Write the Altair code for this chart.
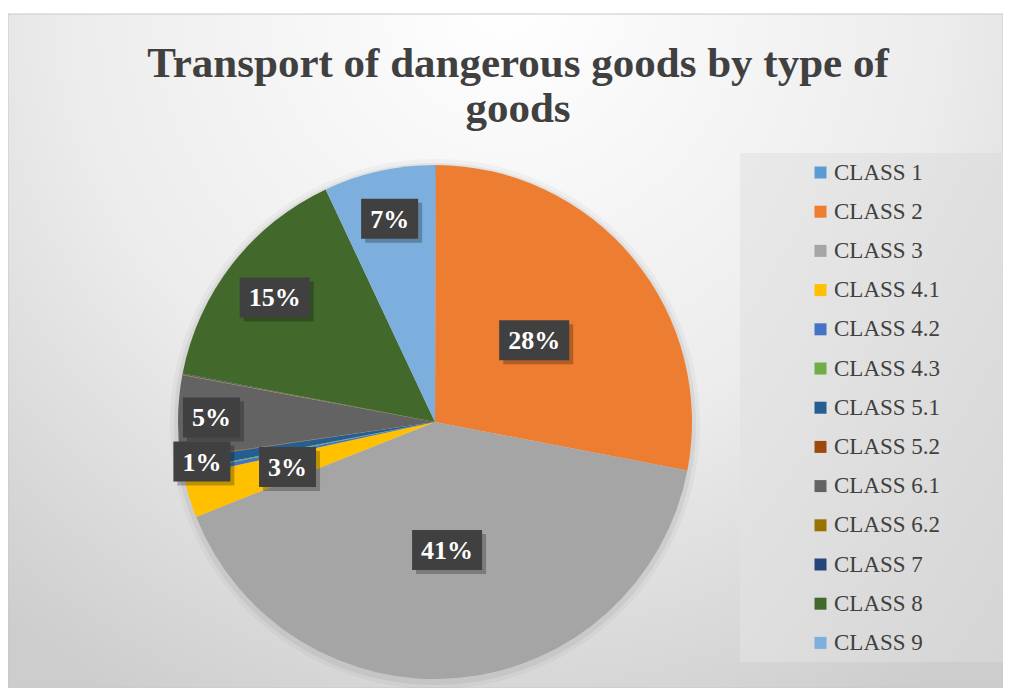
import altair as alt
import pandas as pd
import numpy as np

# ---------------- data ----------------
classes = ["CLASS 1", "CLASS 2", "CLASS 3", "CLASS 4.1", "CLASS 4.2", "CLASS 4.3",
           "CLASS 5.1", "CLASS 5.2", "CLASS 6.1", "CLASS 6.2", "CLASS 7", "CLASS 8", "CLASS 9"]
values = [0.05, 28.0, 41.0, 2.6, 0.3, 0.1, 0.7, 0.05, 5.2, 0.05, 0.05, 15.0, 7.0]
colors = ["#5B9BD5", "#ED7D31", "#A5A5A5", "#FFC000", "#4472C4", "#70AD47",
          "#255E91", "#9E480E", "#636363", "#997300", "#264478", "#43682B", "#7CAFDD"]
title_lines = ["Transport of dangerous goods by type of", "goods"]

# ---------------- layout ----------------
W, H = 995, 680
CX, CY, R = 427, 414, 257
label_radius = {"CLASS 2": 0.5, "CLASS 3": 0.5, "CLASS 4.1": 0.6, "CLASS 5.1": 0.92,
                "CLASS 6.1": 0.87, "CLASS 8": 0.79, "CLASS 9": 0.81}
FONT = "Liberation Serif"
TXT = "#404040"

df = pd.DataFrame({"cls": classes, "value": values, "idx": list(range(len(classes)))})
total = df["value"].sum()
df["pct"] = df["value"] / total
cum = df["pct"].cumsum()
df["mid"] = (cum - df["pct"] / 2) * 2 * np.pi
df["label"] = (df["pct"] * 100).round().astype(int).astype(str) + "%"
lab = df[(df["pct"] * 100).round() >= 1].copy()
lab["rf"] = lab["cls"].map(label_radius).fillna(0.6)
lab["lx"] = CX + np.sin(lab["mid"]) * R * lab["rf"]
lab["ly"] = CY - np.cos(lab["mid"]) * R * lab["rf"]
lab["bw"] = np.where(lab["label"].str.len() >= 3, 70, 57)
lab["x0"] = lab["lx"] - lab["bw"] / 2
lab["x1"] = lab["lx"] + lab["bw"] / 2
lab["y0"] = lab["ly"] - 20
lab["y1"] = lab["ly"] + 20
lab["sx0"] = lab["x0"] + 4
lab["sx1"] = lab["x1"] + 4
lab["sy0"] = lab["y0"] + 4
lab["sy1"] = lab["y1"] + 4

xs = alt.Scale(domain=[0, W], nice=False, zero=False)
ys = alt.Scale(domain=[0, H], nice=False, zero=False, reverse=True)
dummy = alt.Data(values=[{}])

bg_grad = {"gradient": "radial", "x1": 0.5, "y1": 0.15, "r1": 0,
           "x2": 0.5, "y2": 0.15, "r2": 0.8,
           "stops": [{"offset": 0, "color": "#ffffff"},
                     {"offset": 0.55, "color": "#ececec"},
                     {"offset": 1, "color": "#cdcdcd"}]}
background = alt.Chart(dummy).mark_rect(color=bg_grad, stroke="#c8c8c8", strokeWidth=1).encode(
    x=alt.value(0), x2=alt.value(W), y=alt.value(6), y2=alt.value(H))

leg_grad = {"gradient": "linear", "x1": 0, "y1": 0, "x2": 1, "y2": 1,
            "stops": [{"offset": 0, "color": "#e8e8e8"}, {"offset": 1, "color": "#d6d6d6"}]}
legend_box = alt.Chart(dummy).mark_rect(color=leg_grad, opacity=0.9).encode(
    x=alt.value(732), x2=alt.value(W), y=alt.value(145), y2=alt.value(654))

pie_shadow1 = alt.Chart(dummy).mark_arc(outerRadius=R + 8, color="#000000", opacity=0.03).encode(
    theta=alt.value(0), theta2=alt.value(6.2832), x=alt.value(CX), y=alt.value(CY + 2))
pie_shadow2 = alt.Chart(dummy).mark_arc(outerRadius=R + 4, color="#000000", opacity=0.05).encode(
    theta=alt.value(0), theta2=alt.value(6.2832), x=alt.value(CX), y=alt.value(CY + 2))

pie = alt.Chart(df).mark_arc(outerRadius=R).encode(
    theta=alt.Theta("value:Q", stack=True),
    order=alt.Order("idx:Q", sort="ascending"),
    color=alt.Color("cls:N", scale=alt.Scale(domain=classes, range=colors),
                    legend=alt.Legend(orient="none", legendX=801, legendY=153, title=None,
                                      symbolType="square", symbolSize=144, symbolStrokeWidth=0,
                                      symbolOpacity=1, labelFont=FONT, labelFontSize=23,
                                      labelColor=TXT, rowPadding=15.2, labelOffset=2,
                                      padding=0, labelLimit=300)),
    x=alt.value(CX), y=alt.value(CY))

box_shadow = alt.Chart(lab).mark_rect(color="#000000", opacity=0.25).encode(
    x=alt.X("sx0:Q", scale=xs, axis=None), x2="sx1:Q",
    y=alt.Y("sy0:Q", scale=ys, axis=None), y2="sy1:Q")
boxes = alt.Chart(lab).mark_rect(color="#404040").encode(
    x=alt.X("x0:Q", scale=xs, axis=None), x2="x1:Q",
    y=alt.Y("y0:Q", scale=ys, axis=None), y2="y1:Q")
texts = alt.Chart(lab).mark_text(font=FONT, fontSize=26, fontWeight="bold", color="#ffffff",
                                 baseline="middle", align="center", dy=1).encode(
    x=alt.X("lx:Q", scale=xs, axis=None), y=alt.Y("ly:Q", scale=ys, axis=None), text="label:N")

title1 = alt.Chart(dummy).mark_text(font=FONT, fontSize=43, fontWeight="bold", color=TXT,
                                    align="center", baseline="alphabetic").encode(
    x=alt.value(510), y=alt.value(69), text=alt.value(title_lines[0]))
title2 = alt.Chart(dummy).mark_text(font=FONT, fontSize=43, fontWeight="bold", color=TXT,
                                    align="center", baseline="alphabetic").encode(
    x=alt.value(510), y=alt.value(114), text=alt.value(title_lines[1]))

chart = alt.layer(background, legend_box, pie_shadow1, pie_shadow2, pie, box_shadow, boxes,
                  texts, title1, title2).properties(
    width=W, height=H, padding=0, autosize=alt.AutoSizeParams(type="none")
).configure_view(stroke=None)

chart.save("out.html", embed_options={"renderer": "svg", "actions": False})
